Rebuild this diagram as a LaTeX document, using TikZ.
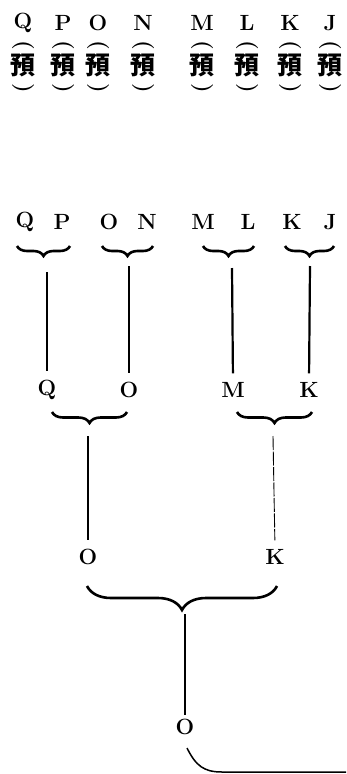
\documentclass[tikz,border=0pt]{standalone}
\usepackage{fontspec}
\newfontfamily\cjk{Noto Sans CJK TC}
\usetikzlibrary{decorations.pathreplacing}
\tikzset{
  letter/.style={font=\fontsize{22}{22}\selectfont\bfseries, inner sep=1pt},
  yu/.style={font=\fontsize{25}{25}\selectfont\cjk\bfseries, inner sep=0pt},
  paren/.style={font=\fontsize{22}{22}\selectfont\bfseries, inner sep=0pt, rotate=-90},
  bracedn/.style={decorate, decoration={brace, mirror, amplitude=#1}, line width=2.6pt},
  stem/.style={line width=2.2pt, shorten >=8pt},
}
\begin{document}
\begin{tikzpicture}[x=1pt,y=-1pt]
\useasboundingbox (0,0) rectangle (346,774);
% top row
\foreach \name/\x [count=\i] in {Q/23,P/63,O/98,N/143,M/202,L/247,K/290,J/330}
{
    \node[letter] (t\i) at (\x,23) {\name};
    \node[paren] (u\i) at (\x,45) {(};
    \node[yu] (p\i) at (\x,65) {預};
    \node[paren] (v\i) at (\x,88) {)};
}
% second row
\foreach \name/\x [count=\i] in {Q/25,P/62,O/109,N/147,M/203,L/248,K/292,J/330}
{
    \node[letter] (a\i) at (\x,222) {\name};
}
\draw[bracedn=10] (17,246) -- (70,246);
\draw[bracedn=10] (102,246) -- (153,246);
\draw[bracedn=10] (203,246) -- (254,246);
\draw[bracedn=10] (285,246) -- (334,246);
% third row
\node[letter] (c1) at (47,390) {Q};
\node[letter] (c2) at (129,390) {O};
\node[letter] (c3) at (233,390) {M};
\node[letter] (c4) at (309,390) {K};
\coordinate (s1) at (47,272);
\coordinate (s2) at (129,266);
\coordinate (s3) at (232,268);
\coordinate (s4) at (310,266);
\foreach \i in {1,...,4}
{
    \draw[stem] (s\i) -- (c\i.north);
}
\draw[bracedn=11] (52,412) -- (127,412);
\draw[bracedn=11] (237,412) -- (312,412);
% fourth row
\node[letter] (d1) at (88,557) {O};
\node[letter] (d2) at (275,557) {K};
\coordinate (s5) at (88,436);
\coordinate (s6) at (273,436);
\draw[stem] (s5) -- (d1.north);
\draw[stem, line width=0.9pt, dash pattern=on 14pt off 1.5pt] (s6) -- (d2.north);
\draw[bracedn=24] (87,586) -- (277,586);
% last
\node[letter] (e1) at (185,727) {O};
\coordinate (s7) at (185,614);
\draw[stem, shorten >=3pt] (s7) -- (e1.north);
\coordinate (r0) at (187,748);
\coordinate (r1) at (346,772);
\draw[line width=1.5pt] (r0) .. controls (196,766) and (204,772) .. (222,772) -- (r1);
\end{tikzpicture}
\end{document}
